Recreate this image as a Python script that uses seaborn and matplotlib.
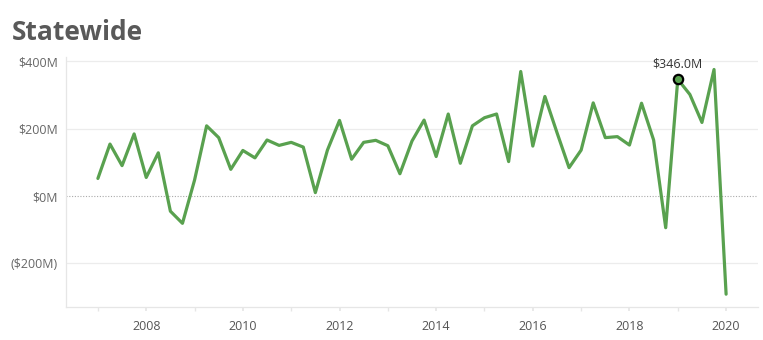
import matplotlib
matplotlib.use("Agg")
import matplotlib.pyplot as plt
import seaborn as sns
import numpy as np
import pandas as pd

# Quarterly values, 2007 Q1 .. 2020 Q1 ($M)
start_year = 2007
values = [52, 154, 90, 184, 55, 128, -45, -81,
          47, 208, 173, 79, 135, 113, 166, 150,
          159, 145, 10, 136, 224, 109, 159, 165,
          149, 66, 163, 225, 117, 243, 97, 208,
          232, 243, 102, 369, 148, 295, 188, 84,
          136, 276, 173, 176, 151, 275, 166, -94,
          346, 301, 218, 375, -291]
year_ticks = [2008, 2010, 2012, 2014, 2016, 2018, 2020]
y_ticks = [-200, 0, 200, 400]
y_tick_labels = ["($200M)", "$0M", "$200M", "$400M"]
highlight_index = 48
highlight_label = "$346.0M"
title = "Statewide"

t = [start_year + i / 4 for i in range(len(values))]
df = pd.DataFrame({"t": t, "v": values})

sns.set_theme(style="white")
plt.rcParams["font.family"] = ["Open Sans", "DejaVu Sans"]

fig = plt.figure(figsize=(7.63, 3.40), dpi=100)
ax = fig.add_axes([66 / 763, 1 - 307 / 340, (758 - 66) / 763, (307 - 57) / 340])

green = "#59a14f"
sns.lineplot(data=df, x="t", y="v", ax=ax, color=green, linewidth=2.3)

hx, hy = df["t"][highlight_index], df["v"][highlight_index]
ax.scatter([hx], [hy], s=45, color=green, edgecolor="black", linewidth=1.6, zorder=5)
ax.annotate(highlight_label, (hx, hy), xytext=(0, 6), textcoords="offset points",
            ha="center", va="bottom", fontsize=9, color="#333333")

ax.set_xlim(2006.34, 2020.66)
ax.set_ylim(-329, 412)

for yv in [-200, 200, 400]:
    ax.axhline(yv, color="#ececec", linewidth=0.9, zorder=0)
ax.axhline(0, color="#aaaaaa", linewidth=0.8, linestyle=(0, (1, 1.5)), zorder=0)

ax.set_yticks(y_ticks)
ax.set_yticklabels(y_tick_labels)
ax.set_xticks(year_ticks)
ax.set_xticklabels([str(y) for y in year_ticks])
ax.set_xticks(list(range(2007, 2021)), minor=True)
ax.tick_params(axis="x", which="both", length=3, color="#e6e6e6", labelsize=9,
               labelcolor="#555555", pad=6, bottom=True)
ax.tick_params(axis="y", length=0, labelsize=9, labelcolor="#666666", pad=6)

ax.set_xlabel("")
ax.set_ylabel("")
for s in ["top", "right"]:
    ax.spines[s].set_visible(False)
for s in ["left", "bottom"]:
    ax.spines[s].set_color("#e6e6e6")
    ax.spines[s].set_linewidth(0.9)

fig.text(12 / 763, 1 - 32 / 340, title, fontsize=19, fontweight="bold",
         color="#595959", ha="left", va="center")

fig.savefig("out.png", dpi=100)
